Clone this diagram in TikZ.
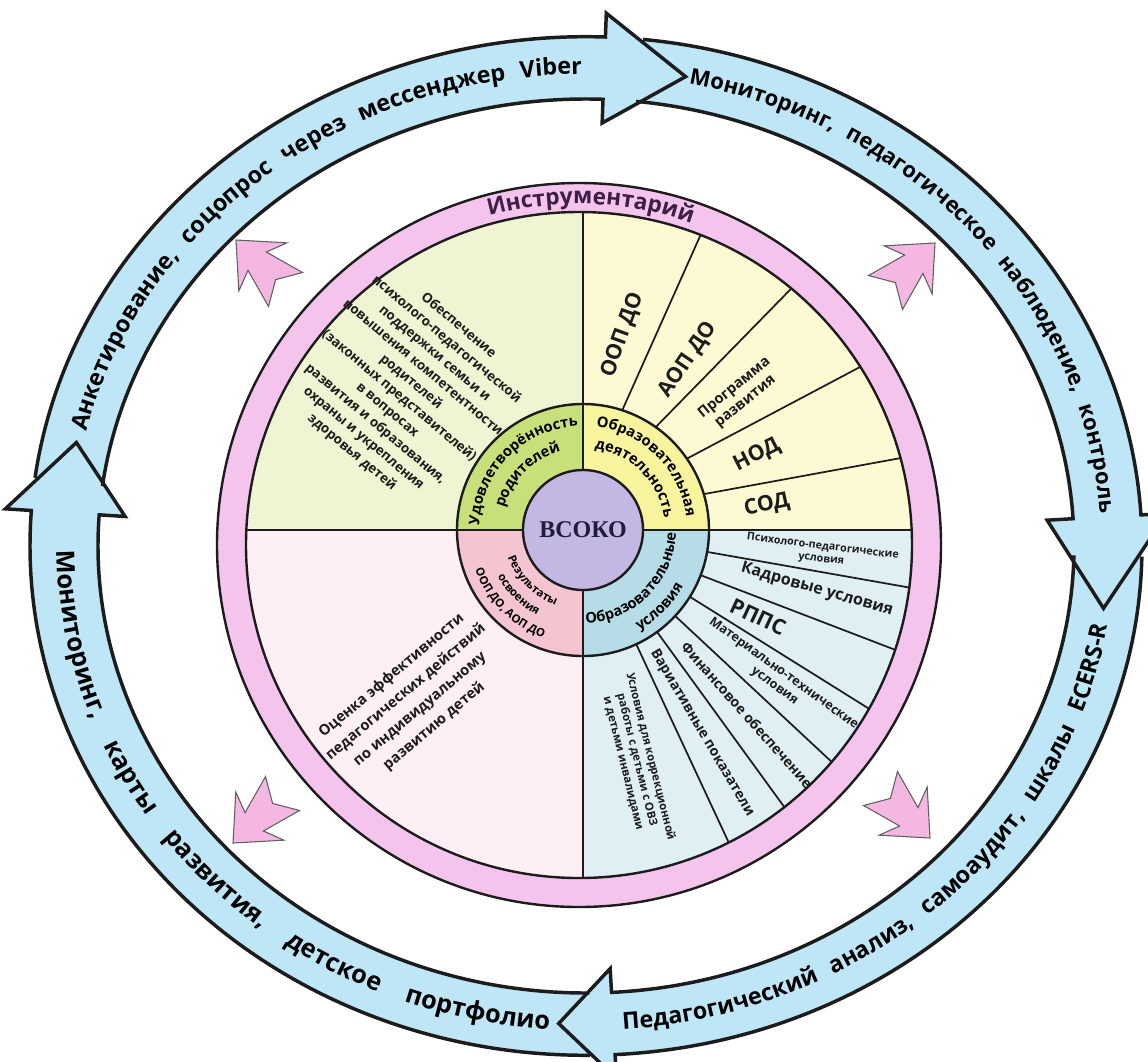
\documentclass[tikz,border=0pt]{standalone}
\usepackage{fontspec}
\setmainfont{Open Sans}
\newfontfamily\coreserif{Liberation Serif}
\usetikzlibrary{decorations.text}
\definecolor{ink}{HTML}{1C1C1C}
\definecolor{cyclefill}{HTML}{BEE6F6}
\definecolor{instr}{HTML}{F5C4EC}
\definecolor{instrink}{HTML}{3D1F45}
\definecolor{parentsbg}{HTML}{EFF5D3}
\definecolor{parentsmid}{HTML}{C8E07A}
\definecolor{activitybg}{HTML}{FDFAD3}
\definecolor{activitymid}{HTML}{F8F39D}
\definecolor{condsbg}{HTML}{E0EFF4}
\definecolor{condsmid}{HTML}{B6DDE7}
\definecolor{resultsbg}{HTML}{FDEFF3}
\definecolor{resultsmid}{HTML}{F4C5D0}
\definecolor{corefill}{HTML}{C4B7E3}
\definecolor{coreink}{HTML}{1F1D3A}
\definecolor{arrowpink}{HTML}{F3B7E2}
\newcommand\cyclefont{\bfseries\fontsize{17.5}{17.5}\selectfont}
\newcommand\cyclesmallfont{\bfseries\fontsize{16.5}{16.5}\selectfont}
\newcommand\cyclebigfont{\bfseries\fontsize{19}{19}\selectfont}
\newcommand\midfont{\bfseries\fontsize{11}{11}\selectfont}
\newcommand\resfont{\bfseries\fontsize{8.5}{8.5}\selectfont}
\newcommand\instrfont{\bfseries\fontsize{17}{17}\selectfont}
\tikzset{
  pinkarr/.pic={
    \draw[fill=arrowpink,draw=ink!70,line width=0.8pt]
      (0,0) -- (-38,34) -- (-30,13) -- (-70,24) -- (-56,0)
      -- (-70,-24) -- (-30,-13) -- (-38,-34) -- cycle;
  }
}

\begin{document}
\begin{tikzpicture}[x=0.75pt,y=0.75pt,
  cycleline/.style={draw=ink,line width=2.6pt,line join=miter},
  ringedge/.style={draw=ink,line width=1.8pt},
  divider/.style={draw=ink,line width=1.3pt},
  seclabel/.style={align=center,inner sep=0pt,text=ink},
  cycletext/.style={decorate,decoration={text along path,
    text align={fit to path stretching spaces},text={|\cyclefont|#1}}},
  cyclesmalltext/.style={decorate,decoration={text along path,
    text align={fit to path stretching spaces},text={|\cyclesmallfont|#1}}},
  cyclebigtext/.style={decorate,decoration={text along path,
    text align={fit to path stretching spaces},text={|\cyclebigfont|#1}}},
  midtext/.style={decorate,decoration={text along path,
    text align=center,text={|\midfont|#1}}},
  restext/.style={decorate,decoration={text along path,
    text align=center,text={|\resfont|#1}}},
]
\fill[white] (0,0) rectangle (1148,-1061);
\useasboundingbox (0,0) rectangle (1148,-1061);

% outer cycle of methods
\begin{scope}[shift={(586,-546)},yscale=0.916]
  \foreach \beg/\fin/\tip in {172.3/88/79,84.1/3.5/-7.5,-1.2/-87/-93,-89.6/-184/-192.5}
    \fill[cyclefill] (\beg:556) arc[start angle=\beg,end angle=\fin,radius=556]
      -- (\fin:582) -- (\tip:522) -- (\fin:462) -- (\fin:488)
      arc[start angle=\fin,end angle=\beg,radius=488] -- cycle;
  \foreach \beg/\fin/\tip in {172.3/88/79,84.1/3.5/-7.5,-1.2/-87/-93,-89.6/-184/-192.5}
    \draw[cycleline] (\beg:556) arc[start angle=\beg,end angle=\fin,radius=556]
      -- (\fin:582) -- (\tip:522) -- (\fin:462) -- (\fin:488)
      arc[start angle=\fin,end angle=\beg,radius=488];
  \path[cycletext={Анкетирование, соцопрос через мессенджер Viber}]
    (166:515) arc[start angle=166,end angle=90.5,radius=515];
  \path[cyclesmalltext={Мониторинг, педагогическое наблюдение, контроль}]
    (78.5:515) arc[start angle=78.5,end angle=4,radius=515];
  \path[cycletext={Педагогический анализ, самоаудит, шкалы ECERS-R}]
    (-86:529) arc[start angle=-86,end angle=-9.5,radius=529];
  \path[cyclebigtext={Мониторинг, карты развития, детское портфолио}]
    (180.5:529) arc[start angle=180.5,end angle=266,radius=529];
\end{scope}

% pink arrows
\foreach \x/\y/\r in {236/-240/135,935/-243/45,233/-843/225,930/-838/-45}
  \pic[rotate=\r] at (\x,\y) {pinkarr};

% sectors
\begin{scope}
  \clip (579,-545) circle (333);
  \fill[parentsbg] (583,-530) rectangle (200,-150);
  \fill[activitybg] (583,-530) rectangle (960,-150);
  \fill[condsbg] (583,-530) rectangle (960,-930);
  \fill[resultsbg] (583,-530) rectangle (200,-930);
  \draw[divider] (200,-530) -- (960,-530);
  \draw[divider] (583,-150) -- (583,-930);
  \draw[divider] (617,-422) -- (722,-187);
  \draw[divider] (647,-436) -- (829,-250);
  \draw[divider] (673,-466) -- (911,-340);
  \draw[divider] (688,-497) -- (961,-447);
  \foreach \a in {-10,-21,-32,-43,-54,-65}
    \draw[divider] (583,-530) -- ++(\a:420);
\end{scope}

% instrument ring
\fill[instr,even odd rule] (579,-545) circle (362) (579,-545) circle (333);
\draw[ringedge] (579,-545) circle (362);
\draw[ringedge] (579,-545) circle (333);
\begin{scope}[shift={(579,-545)}]
  \path[decorate,decoration={text along path,text align=center,
    text color=instrink,text={|\instrfont|Инструментарий}}]
    (108:341) arc[start angle=108,end angle=68,radius=341];
\end{scope}

% middle ring and core
\begin{scope}[shift={(583,-530)}]
  \fill[parentsmid] (0,0) -- (90:126) arc[start angle=90,end angle=180,radius=126] -- cycle;
  \fill[activitymid] (0,0) -- (0:126) arc[start angle=0,end angle=90,radius=126] -- cycle;
  \fill[condsmid] (0,0) -- (-90:126) arc[start angle=-90,end angle=0,radius=126] -- cycle;
  \fill[resultsmid] (0,0) -- (180:126) arc[start angle=180,end angle=270,radius=126] -- cycle;
  \draw[divider] (-126,0) -- (126,0) (0,126) -- (0,-126);
  \draw[ringedge] (0,0) circle (126);
  \draw[ringedge,fill=corefill] (0,0) circle (60);
  \node[font=\coreserif\bfseries\fontsize{18}{18}\selectfont,text=coreink] (vsoko) at (0,0) {ВСОКО};
  \path[midtext={Удовлетворённость}] (179.5:104) arc[start angle=179.5,end angle=90.5,radius=104];
  \path[midtext={родителей}] (179:82) arc[start angle=179,end angle=91,radius=82];
  \path[midtext={Образовательная}] (89.5:104) arc[start angle=89.5,end angle=0.5,radius=104];
  \path[midtext={деятельность}] (89:82) arc[start angle=89,end angle=1,radius=82];
  \path[midtext={Образовательные}] (-89.5:93) arc[start angle=-89.5,end angle=-0.5,radius=93];
  \path[midtext={условия}] (-89:115) arc[start angle=-89,end angle=-1,radius=115];
  \path[restext={Результаты}] (182:80) arc[start angle=182,end angle=268,radius=80];
  \path[restext={освоения}] (182:97) arc[start angle=182,end angle=268,radius=97];
  \path[restext={ООП ДО, АОП ДО}] (182:115) arc[start angle=182,end angle=268,radius=115];
\end{scope}

% sector labels
\node[seclabel,font=\bfseries\fontsize{10}{13.8}\selectfont,rotate=-40] (family) at (405,-389)
  {Обеспечение\\психолого-педагогической\\поддержки семьи и\\повышения компетентности\\родителей\\(законных представителей)\\в вопросах\\развития и образования,\\охраны и укрепления\\здоровья детей};
\node[seclabel,font=\bfseries\fontsize{11}{16.5}\selectfont,rotate=40] (evaluation) at (413,-701)
  {Оценка эффективности\\педагогических действий\\по индивидуальному\\развитию детей};
\node[seclabel,font=\bfseries\fontsize{16}{18}\selectfont,rotate=70] (oop) at (623,-335) {ООП ДО};
\node[seclabel,font=\bfseries\fontsize{16}{18}\selectfont,rotate=56] (aop) at (688,-360) {АОП ДО};
\node[seclabel,font=\bfseries\fontsize{11}{13}\selectfont,rotate=39] (program) at (740,-395) {Программа\\развития};
\node[seclabel,font=\bfseries\fontsize{16}{18}\selectfont,rotate=27] (nod) at (757,-455) {НОД};
\node[seclabel,font=\bfseries\fontsize{16}{18}\selectfont,rotate=12] (sod) at (767,-505) {СОД};
\node[seclabel,font=\bfseries\fontsize{8}{9.5}\selectfont,rotate=-7] (psych) at (822,-553) {Психолого-педагогические\\условия};
\node[seclabel,font=\bfseries\fontsize{12}{14}\selectfont,rotate=-16] (staff) at (817,-590) {Кадровые условия};
\node[seclabel,font=\bfseries\fontsize{16}{18}\selectfont,rotate=-25] (rpps) at (758,-617) {РППС};
\node[seclabel,font=\bfseries\fontsize{9.5}{11.5}\selectfont,rotate=-36] (material) at (779,-680) {Материально-технические\\условия};
\node[seclabel,font=\bfseries\fontsize{10.5}{12}\selectfont,rotate=-48.5] (finance) at (747,-715) {Финансовое обеспечение};
\node[seclabel,font=\bfseries\fontsize{10.5}{12}\selectfont,rotate=-59.5] (variative) at (702,-733) {Вариативные показатели};
\node[seclabel,font=\bfseries\fontsize{8.5}{10.5}\selectfont,rotate=-76] (correction) at (637,-760)
  {Условия для коррекционной\\работы с детьми с ОВЗ\\и детьми инвалидами};
\end{tikzpicture}
\end{document}
